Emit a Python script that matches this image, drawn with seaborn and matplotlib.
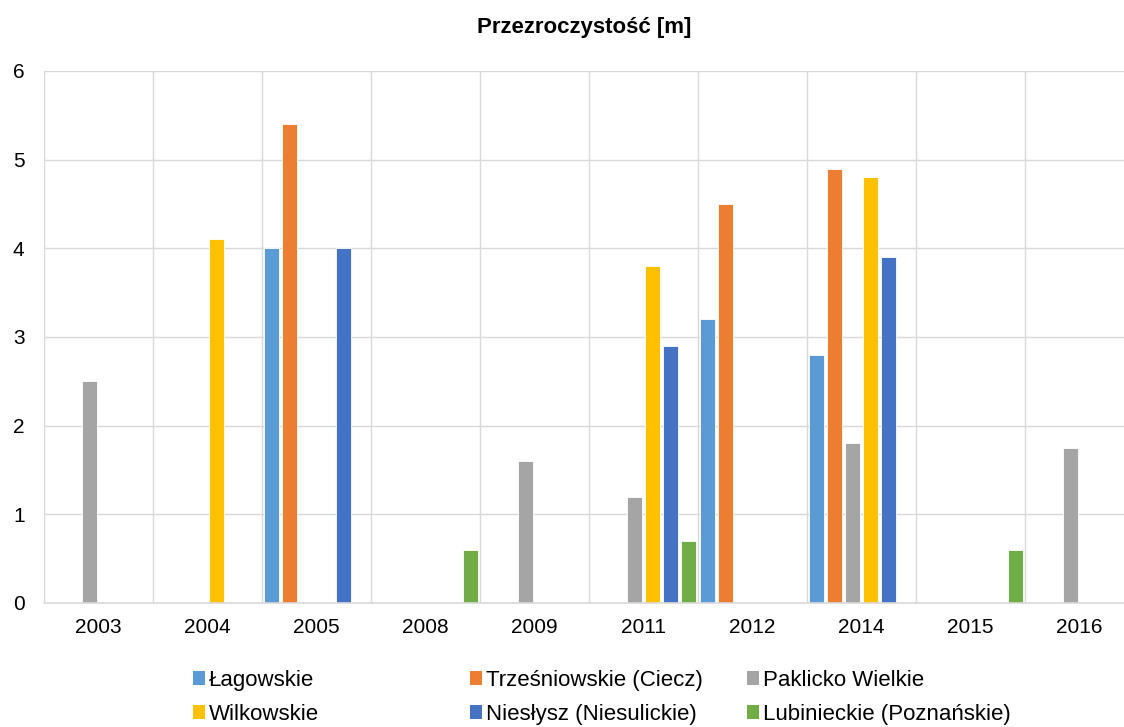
import numpy as np
import pandas as pd
import matplotlib
matplotlib.use("Agg")
import matplotlib.pyplot as plt
import seaborn as sns
from matplotlib.patches import Patch

years = ["2003", "2004", "2005", "2008", "2009", "2011", "2012", "2014", "2015", "2016"]
series = ["Łagowskie", "Trześniowskie (Ciecz)", "Paklicko Wielkie",
          "Wilkowskie", "Niesłysz (Niesulickie)", "Lubinieckie (Poznańskie)"]
colors = ["#5B9BD5", "#ED7D31", "#A5A5A5", "#FFC000", "#4472C4", "#70AD47"]

nan = np.nan
lagowskie     = [nan, nan, 4.0, nan, nan, nan, 3.2, 2.8, nan, nan]
trzesniowskie = [nan, nan, 5.4, nan, nan, nan, 4.5, 4.9, nan, nan]
paklicko      = [2.5, nan, nan, nan, 1.6, 1.2, nan, 1.8, nan, 1.75]
wilkowskie    = [nan, 4.1, nan, nan, nan, 3.8, nan, 4.8, nan, nan]
nieslysz      = [nan, nan, 4.0, nan, nan, 2.9, nan, 3.9, nan, nan]
lubinieckie   = [nan, nan, nan, 0.6, nan, 0.7, nan, nan, 0.6, nan]

values = [lagowskie, trzesniowskie, paklicko, wilkowskie, nieslysz, lubinieckie]

rows = []
for s, vals in zip(series, values):
    for y, v in zip(years, vals):
        rows.append({"year": y, "series": s, "value": v})
df = pd.DataFrame(rows)

sns.set_style("white")
plt.rcParams["font.family"] = ["Liberation Sans", "DejaVu Sans"]
plt.rcParams["text.color"] = "black"

fig = plt.figure(figsize=(11.24, 7.27), dpi=100)
ax = fig.add_axes([44 / 1124, 124 / 727, 1090 / 1124, 532 / 727])

sns.barplot(data=df, x="year", y="value", hue="series", order=years,
            hue_order=series, palette=colors, saturation=1, width=1.0, gap=0.17,
            dodge=True, ax=ax, legend=False, edgecolor="white",
            linewidth=0.6, err_kws={"linewidth": 0})

ax.set_ylim(0, 6)
ax.set_xlim(-0.5, 9.5)
ax.set_yticks(range(0, 7))
ax.set_xlabel("")
ax.set_ylabel("")
for sp in ["top", "right", "left"]:
    ax.spines[sp].set_visible(False)
ax.spines["bottom"].set_color("#D9D9D9")
ax.spines["bottom"].set_linewidth(1.2)

ax.set_axisbelow(True)
for yv in range(1, 7):
    ax.axhline(yv, color="#D9D9D9", linewidth=1.0, zorder=0)
for xv in np.arange(-0.5, 10, 1.0):
    ax.axvline(xv, color="#D9D9D9", linewidth=1.0, zorder=0)

ax.tick_params(axis="both", length=0, labelsize=15, colors="#000000")
ax.tick_params(axis="x", pad=11)
ax.tick_params(axis="y", pad=14)

fig.text(584 / 1124, 1 - 28 / 727, "Przezroczystość [m]", ha="center",
         va="center", fontsize=16, fontweight="bold", color="black")

handles = [Patch(facecolor=c, edgecolor="none") for c in colors]
col_x = [193 / 1124, 470 / 1124, 747 / 1124]
for i in range(3):
    hs = [handles[i], handles[i + 3]]
    ls = [series[i], series[i + 3]]
    fig.legend(hs, ls, loc="upper left", bbox_to_anchor=(col_x[i], 1 - 670 / 727),
               frameon=False, fontsize=16, handlelength=0.55, handleheight=0.55,
               handletextpad=0.18, labelspacing=0.58, borderaxespad=0,
               borderpad=0, labelcolor="black")

fig.savefig("out.png", dpi=100)
